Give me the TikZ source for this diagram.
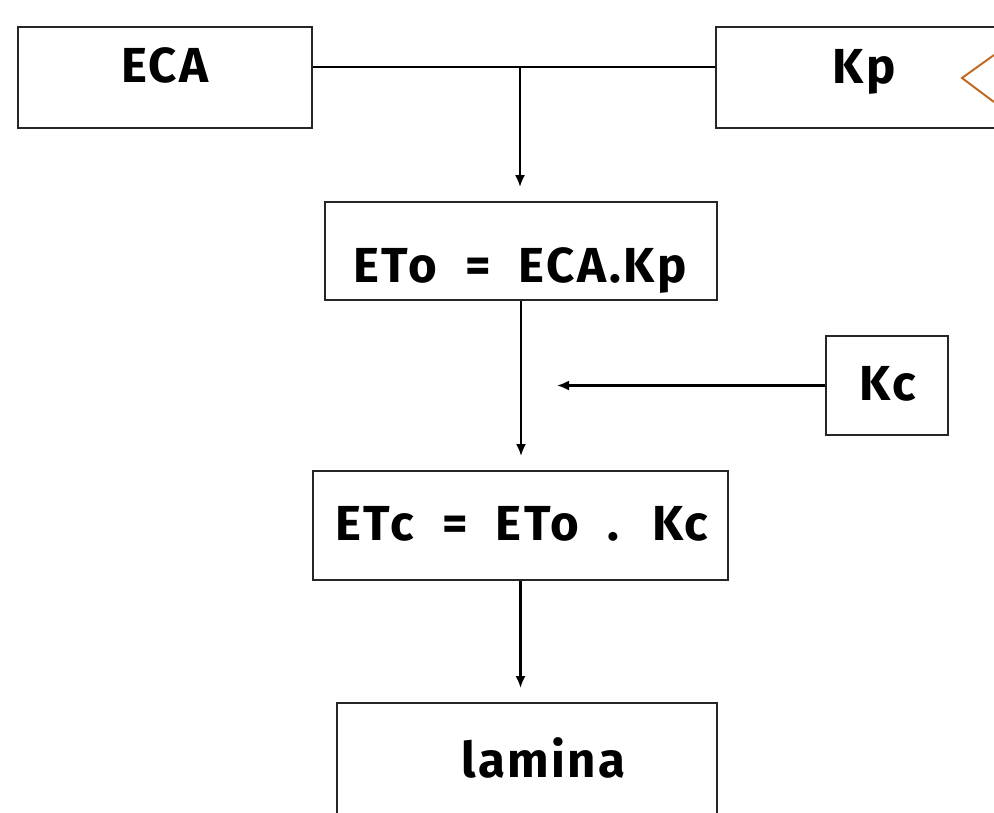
\documentclass[tikz,border=0pt]{standalone}
\usepackage{fontspec}
\setmainfont{Fira Sans}[LetterSpace=5,WordSpace=2]
\usetikzlibrary{arrows.meta}
\definecolor{bracketorange}{RGB}{192,104,32}
\begin{document}
\begin{tikzpicture}[x=0.02cm,y=-0.02cm,
        box/.style={draw=black!85,line width=1.1pt,inner sep=0pt},
        lbl/.style={anchor=base,font=\fontsize{28}{34}\selectfont\bfseries},
        link/.style={line width=1.2pt},
        arr/.style={link,-{Latex[length=2.4mm,width=2mm]}},
        down/.style={arr,shorten >=0.28cm}]
    \clip (0,0) rectangle (994,812);
    % boxes
    \node[box,minimum width=5.88cm,minimum height=2.02cm] (eca) at (165,77.5){};
    \node[box,minimum width=5.88cm,minimum height=2.02cm] (kp) at (863,77.5){};
    \node[box,minimum width=7.84cm,minimum height=1.96cm] (eto) at (521,251){};
    \node[box,minimum width=2.44cm,minimum height=1.98cm] (kc) at (887,385.5){};
    \node[box,minimum width=8.3cm,minimum height=2.18cm] (etc) at (520.5,525.5){};
    \node[box,minimum width=7.6cm,minimum height=2.6cm] (lamina) at (527,768){};
    % texts
    \node[lbl] (ecatext) at (165,82) {ECA};
    \node[lbl] (kptext) at (864,83) {Kp};
    \node[lbl] (etotext) at (520,282) {ETo = ECA.Kp};
    \node[lbl] (kctext) at (887.5,400) {Kc};
    \node[lbl] (etctext) at (522,540) {ETc = ETo . Kc};
    \node[lbl] (laminatext) at (543.5,777) {lamina};
    % connectors
    \coordinate (join) at (520,67);
    \coordinate (kcend) at (557,385.5);
    \draw[link] (eca.east |- join) -- (kp.west |- join);
    \draw[down] (join) -- (join |- eto.north);
    \draw[down] (eto.south) -- (eto.south |- etc.north);
    \draw[arr] (kc.west) -- (kcend);
    \draw[down] (etc.south) -- (etc.south |- lamina.north);
    % bracket at the right edge
    \draw[bracketorange,line width=1.1pt] (994,55) -- (962,78) -- (994,102);
\end{tikzpicture}
\end{document}
